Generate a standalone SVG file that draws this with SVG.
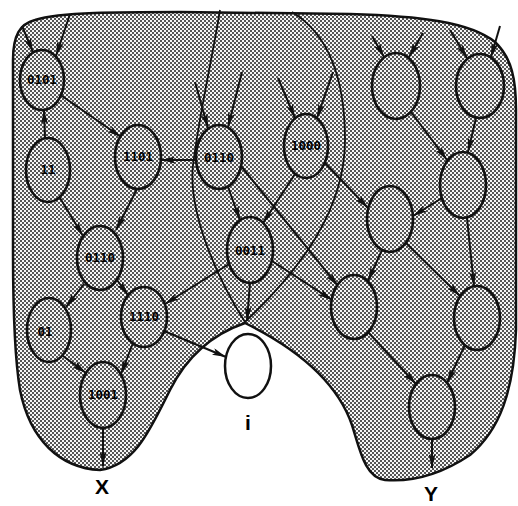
<svg xmlns="http://www.w3.org/2000/svg" width="518" height="506" viewBox="0 0 518 506">
<defs>
<pattern id="ht" width="4" height="4" patternUnits="userSpaceOnUse">
<rect width="4" height="4" fill="#f6f6f6"/>
<rect width="2" height="2" fill="#555"/>
<rect x="2" y="2" width="2" height="2" fill="#555"/>
</pattern>
<marker id="ah" viewBox="0 0 14 7" markerWidth="14" markerHeight="7" refX="14" refY="3.5" orient="auto" markerUnits="userSpaceOnUse">
<path d="M0,0 L14,3.5 L0,7 L3,3.5 Z" fill="#111"/>
</marker>
<style>
.bound{fill:url(#ht);stroke:#111;stroke-width:2.5}
.lens{fill:none;stroke:#111;stroke-width:1.8}
.node{fill:url(#ht);stroke:#111;stroke-width:2.6}
.white{fill:#fff;stroke:#111;stroke-width:2.5}
.lbl{font-family:"DejaVu Sans Mono","Liberation Mono",monospace;font-weight:bold;font-size:12.5px;text-anchor:middle;fill:#000}
.edge{stroke:#111;stroke-width:2;fill:none;marker-end:url(#ah)}
.big{font-family:"Liberation Sans",Arial,sans-serif;font-weight:bold;font-size:21px;text-anchor:middle;fill:#000}
</style>
</defs>
<g id="region">
<path class="bound" d="M35,20 C60,12 120,12 180,12 L350,14 C420,16 470,22 495,42 C512,58 516,80 516,110 L516,330 C514,390 500,430 470,455 C440,475 410,482 385,480 C365,478 360,450 352,425 C340,390 310,355 245,323 C210,335 185,360 170,390 C150,430 135,465 100,470 C60,468 30,440 20,390 C15,360 13,320 13,250 L13,60 C13,35 20,24 35,20 Z"/>
<path class="lens" d="M220,10 C212,60 200,110 193,165 C188,210 215,275 245,322"/>
<path class="lens" d="M292,12 C330,35 345,80 345,140 C345,210 300,270 245,322"/>
</g>
<g id="connectors">
<line class="edge" x1="22" y1="26" x2="33" y2="52"/>
<line class="edge" x1="70" y1="14" x2="56" y2="56"/>
<line class="edge" x1="62" y1="96" x2="121" y2="137"/>
<line class="edge" x1="45" y1="138" x2="44" y2="110"/>
<line class="edge" x1="196" y1="160" x2="161" y2="160"/>
<line class="edge" x1="60" y1="198" x2="83" y2="236"/>
<line class="edge" x1="137" y1="189" x2="116" y2="230"/>
<line class="edge" x1="84" y1="284" x2="66" y2="307"/>
<line class="edge" x1="117" y1="280" x2="128" y2="295"/>
<line class="edge" x1="229" y1="264" x2="165" y2="304"/>
<line class="edge" x1="63" y1="356" x2="86" y2="373"/>
<line class="edge" x1="133" y1="343" x2="121" y2="374"/>
<line class="edge" x1="103" y1="428" x2="103" y2="466"/>
<line class="edge" x1="164" y1="331" x2="226" y2="357"/>
<line class="edge" x1="250" y1="283" x2="247" y2="321"/>
<line class="edge" x1="228" y1="187" x2="240" y2="220"/>
<line class="edge" x1="295" y1="174" x2="263" y2="223"/>
<line class="edge" x1="241" y1="166" x2="338" y2="286"/>
<line class="edge" x1="272" y1="261" x2="332" y2="300"/>
<line class="edge" x1="195" y1="82" x2="208" y2="128"/>
<line class="edge" x1="242" y1="72" x2="228" y2="127"/>
<line class="edge" x1="278" y1="78" x2="295" y2="118"/>
<line class="edge" x1="333" y1="72" x2="317" y2="118"/>
<line class="edge" x1="325" y1="163" x2="368" y2="208"/>
<line class="edge" x1="372" y1="36" x2="384" y2="57"/>
<line class="edge" x1="423" y1="33" x2="409" y2="57"/>
<line class="edge" x1="450" y1="30" x2="467" y2="58"/>
<line class="edge" x1="500" y1="26" x2="491" y2="57"/>
<line class="edge" x1="411" y1="112" x2="447" y2="160"/>
<line class="edge" x1="476" y1="118" x2="468" y2="152"/>
<line class="edge" x1="442" y1="198" x2="413" y2="216"/>
<line class="edge" x1="382" y1="250" x2="368" y2="281"/>
<line class="edge" x1="406" y1="243" x2="460" y2="296"/>
<line class="edge" x1="467" y1="218" x2="474" y2="286"/>
<line class="edge" x1="368" y1="332" x2="416" y2="384"/>
<line class="edge" x1="465" y1="345" x2="447" y2="383"/>
<line class="edge" x1="432" y1="439" x2="432" y2="468"/>
</g>
<g id="n0101"><ellipse class="node" cx="42" cy="80" rx="22" ry="30"/><text class="lbl" x="42" y="84">0101</text></g>
<g id="n11"><ellipse class="node" cx="48" cy="170" rx="22" ry="32"/><text class="lbl" x="48" y="174">11</text></g>
<g id="n1101"><ellipse class="node" cx="138" cy="157" rx="23" ry="32"/><text class="lbl" x="138" y="161">1101</text></g>
<g id="n0110a"><ellipse class="node" cx="219" cy="157" rx="23" ry="32"/><text class="lbl" x="219" y="162">0110</text></g>
<g id="n1000"><ellipse class="node" cx="306" cy="146" rx="22" ry="32"/><text class="lbl" x="306" y="150">1000</text></g>
<g id="n0110b"><ellipse class="node" cx="100" cy="258" rx="23" ry="32"/><text class="lbl" x="100" y="262">0110</text></g>
<g id="n0011"><ellipse class="node" cx="250" cy="250" rx="23" ry="33"/><text class="lbl" x="250" y="255">0011</text></g>
<g id="n01"><ellipse class="node" cx="49" cy="330" rx="22" ry="32"/><text class="lbl" x="45" y="336">01</text></g>
<g id="n1110"><ellipse class="node" cx="144" cy="317" rx="23" ry="30"/><text class="lbl" x="144" y="321">1110</text></g>
<g id="n1001"><ellipse class="node" cx="103" cy="395" rx="23" ry="33"/><text class="lbl" x="103" y="399">1001</text></g>
<g id="nW"><ellipse class="white" cx="248" cy="366" rx="23" ry="32"/><text class="big" x="248" y="430">i</text></g>
<g id="nA"><ellipse class="node" cx="396" cy="86" rx="24" ry="33"/></g>
<g id="nB"><ellipse class="node" cx="480" cy="86" rx="24" ry="32"/></g>
<g id="nC"><ellipse class="node" cx="463" cy="185" rx="23" ry="33"/></g>
<g id="nD"><ellipse class="node" cx="390" cy="219" rx="23" ry="33"/></g>
<g id="nE"><ellipse class="node" cx="354" cy="307" rx="23" ry="32"/></g>
<g id="nF"><ellipse class="node" cx="477" cy="318" rx="23" ry="32"/></g>
<g id="nG"><ellipse class="node" cx="432" cy="407" rx="23" ry="32"/></g>
<g id="labels">
<text class="big" x="102" y="494">X</text>
<text class="big" x="431" y="501">Y</text>
</g>
</svg>
